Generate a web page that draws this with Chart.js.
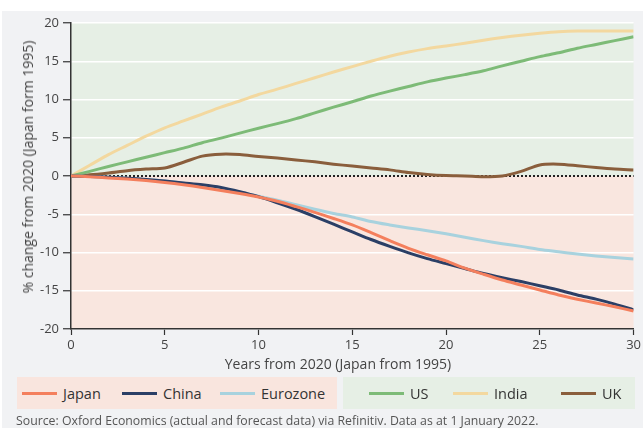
<!DOCTYPE html>
<html>
<head>
<meta charset="utf-8">
<script src="https://cdn.jsdelivr.net/npm/chart.js@4/dist/chart.umd.min.js"></script>
<style>
  html, body { margin: 0; padding: 0; background: #ffffff; }
  #wrap { position: relative; width: 643px; height: 428px; overflow: hidden; font-family: "Open Sans", "Noto Sans", sans-serif; }
  #c { position: absolute; left: 0; top: 0; }
  .txt { position: absolute; color: #444; white-space: nowrap; }
  #xtitle { left: 0; width: 676px; top: 355px; text-align: center; font-size: 14px; line-height: 18px; }
  #ytitle { left: 28px; top: 167px; font-size: 14px; line-height: 18px; transform: translate(-50%, -50%) rotate(-90deg); }
  .lbox { position: absolute; top: 377px; height: 32px; }
  #lpink { left: 17px; width: 320px; background: #f9e5de; }
  #lgreen { left: 343px; width: 292px; background: #e6efe5; }
  .item { position: absolute; top: 0; height: 32px; display: flex; align-items: center; font-size: 14.5px; color: #333; }
  .sw { width: 35px; height: 3px; margin-right: 6px; }
  #source { left: 16px; top: 413px; font-size: 12.3px; line-height: 16px; color: #555; }
</style>
</head>
<body>
<div id="wrap">
  <canvas id="c" width="643" height="428"></canvas>
  <div class="txt" id="xtitle">Years from 2020 (Japan from 1995)</div>
  <div class="txt" id="ytitle">% change from 2020 (Japan form 1995)</div>
  <div class="lbox" id="lpink"></div>
  <div class="lbox" id="lgreen"></div>
  <div class="txt" id="source">Source: Oxford Economics (actual and forecast data) via Refinitiv. Data as at 1 January 2022.</div>
</div>
<script>
// ---- data (years from 2020; Japan from 1995) ----
const years = [0,1,2,3,4,5,6,7,8,9,10,11,12,13,14,15,16,17,18,19,20,21,22,23,24,25,26,27,28,29,30];
const japan    = [0,-0.1,-0.25,-0.4,-0.6,-0.85,-1.15,-1.5,-1.9,-2.3,-2.75,-3.3,-4.0,-4.75,-5.55,-6.4,-7.4,-8.45,-9.45,-10.3,-11.1,-12.05,-12.85,-13.6,-14.25,-14.9,-15.55,-16.1,-16.6,-17.1,-17.65];
const china    = [0,-0.05,-0.15,-0.3,-0.45,-0.65,-0.9,-1.15,-1.5,-2.05,-2.7,-3.5,-4.35,-5.3,-6.3,-7.3,-8.3,-9.2,-10.05,-10.8,-11.45,-12.1,-12.75,-13.3,-13.8,-14.35,-14.9,-15.55,-16.1,-16.75,-17.5];
const eurozone = [0,-0.05,-0.15,-0.3,-0.45,-0.65,-0.95,-1.25,-1.6,-2.1,-2.65,-3.15,-3.75,-4.35,-4.9,-5.35,-5.95,-6.4,-6.8,-7.15,-7.55,-8.0,-8.45,-8.85,-9.2,-9.6,-9.9,-10.2,-10.45,-10.65,-10.85];
const us       = [0,0.6,1.25,1.85,2.45,3.05,3.65,4.35,4.95,5.6,6.25,6.85,7.5,8.25,9.0,9.7,10.45,11.1,11.7,12.3,12.8,13.25,13.75,14.4,15.0,15.6,16.1,16.7,17.2,17.7,18.2];
const india    = [0,1.4,2.8,4.0,5.2,6.3,7.2,8.1,9.0,9.8,10.65,11.35,12.1,12.85,13.6,14.3,15.0,15.65,16.2,16.65,17.0,17.35,17.75,18.1,18.4,18.65,18.85,18.95,18.95,18.95,18.95];
const uk       = [0,0.15,0.4,0.7,0.9,1.05,1.8,2.6,2.85,2.8,2.55,2.35,2.1,1.85,1.55,1.3,1.05,0.8,0.45,0.2,0.05,0.0,-0.1,0.0,0.6,1.45,1.55,1.35,1.1,0.9,0.8];
const seriesNames  = ["Japan","China","Eurozone","US","India","UK"];
const seriesValues = [japan, china, eurozone, us, india, uk];
const seriesColors = ["#f47f5d","#2b3f66","#a8d2de","#7dbb77","#f3d89f","#8a5e3c"];
const yTicks = [-20,-15,-10,-5,0,5,10,15,20];
const xTicks = [0,5,10,15,20,25,30];

// ---- legend (HTML) ----
const legendPos = [[5,"lpink"],[105,"lpink"],[203,"lpink"],[26,"lgreen"],[110,"lgreen"],[218,"lgreen"]];
seriesNames.forEach((n,i)=>{
  const it = document.createElement('div');
  it.className = 'item';
  it.style.left = legendPos[i][0] + 'px';
  it.innerHTML = '<span class="sw" style="background:'+seriesColors[i]+'"></span><span>'+n+'</span>';
  document.getElementById(legendPos[i][1]).appendChild(it);
});

// ---- background plugin ----
const bgPlugin = {
  id: 'bg',
  beforeDraw(chart) {
    const {ctx, chartArea: a, scales: {y}} = chart;
    ctx.save();
    ctx.fillStyle = '#ffffff';
    ctx.fillRect(0, 0, chart.width, chart.height);
    ctx.fillStyle = '#f1f2f4';
    ctx.fillRect(2, 11, chart.width - 2, chart.height - 11);
    const y0 = y.getPixelForValue(0);
    ctx.fillStyle = '#e6efe5';
    ctx.fillRect(a.left, a.top, a.right - a.left, y0 - a.top);
    ctx.fillStyle = '#f9e6df';
    ctx.fillRect(a.left, y0, a.right - a.left, a.bottom - y0);
    ctx.restore();
  },
  beforeDatasetsDraw(chart) {
    const {ctx, chartArea: a, scales: {y}} = chart;
    const y0 = Math.round(y.getPixelForValue(0));
    ctx.save();
    ctx.strokeStyle = '#222';
    ctx.lineWidth = 2;
    ctx.setLineDash([2, 2]);
    ctx.beginPath();
    ctx.moveTo(a.left + 2, y0);
    ctx.lineTo(a.right, y0);
    ctx.stroke();
    ctx.restore();
  }
};

const tickFont = { family: '"Open Sans", "Noto Sans", sans-serif', size: 13 };

new Chart(document.getElementById('c'), {
  type: 'line',
  data: {
    datasets: seriesNames.map((n, i) => ({
      label: n,
      data: years.map((x, j) => ({ x: x, y: seriesValues[i][j] })),
      borderColor: seriesColors[i],
      backgroundColor: seriesColors[i],
      borderWidth: 3,
      pointRadius: 0,
      tension: 0.3,
      fill: false
    }))
  },
  options: {
    responsive: false,
    animation: false,
    events: [],
    layout: { padding: { left: 2, right: 9, top: 23, bottom: 53 } },
    plugins: { legend: { display: false }, tooltip: { enabled: false } },
    scales: {
      x: {
        type: 'linear',
        min: 0, max: 30,
        afterBuildTicks: s => { s.ticks = xTicks.map(v => ({ value: v })); },
        afterFit: s => { s.height = 46; },
        border: { display: true, color: '#333', width: 1.5 },
        grid: { drawOnChartArea: false, drawTicks: true, tickLength: 6, tickColor: '#333', tickWidth: 1.2 },
        ticks: { color: '#444', font: tickFont, padding: 2, maxRotation: 0 }
      },
      y: {
        type: 'linear',
        min: -20, max: 20,
        afterBuildTicks: s => { s.ticks = yTicks.map(v => ({ value: v })); },
        afterFit: s => { s.width = 69; },
        border: { display: true, color: '#333', width: 1.5 },
        grid: {
          color: c => (c.tick && c.tick.value === 0) ? 'rgba(0,0,0,0)' : '#ffffff',
          lineWidth: 1.5,
          drawTicks: true, tickLength: 8, tickColor: '#333', tickWidth: 1.2
        },
        ticks: { color: '#444', font: tickFont, padding: 4 }
      }
    }
  },
  plugins: [bgPlugin]
});
</script>
</body>
</html>
